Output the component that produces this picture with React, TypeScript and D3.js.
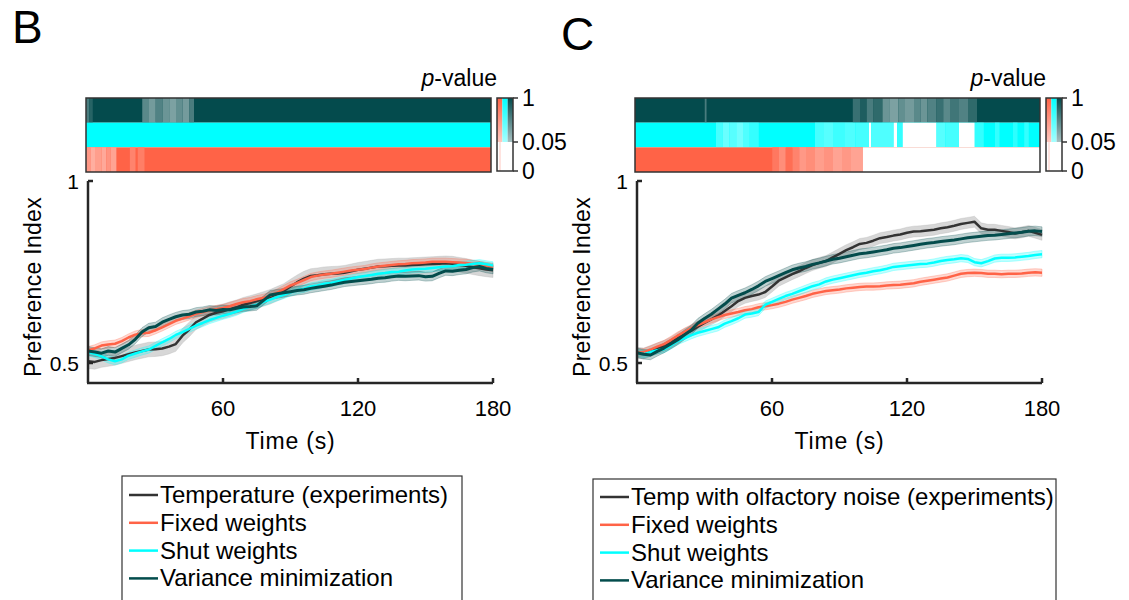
import React from "react";
import * as d3 from "d3";

// sample spacing of the traces (s)
const TIME_STEP = 3;
const X_TICKS = [60, 120, 180];
const Y_TICKS = [0.5, 1];
const P_TICKS = [0, 0.05, 1];

const LINE_COLORS = ["#333333", "#ff6347", "#00ffff", "#034c4c"];
const BAND_COLORS = ["#a6a6a6", "#ff6347", "#00ffff", "#034c4c"];
const HEAT_COLORS = ["#044b4d", "#00ffff", "#ff6347"]; // variance min, shut, fixed

const LEGEND_B = ["Temperature (experiments)", "Fixed weights", "Shut weights", "Variance minimization"];
const LEGEND_C = ["Temp with olfactory noise (experiments)", "Fixed weights", "Shut weights", "Variance minimization"];

// panel B: preference index every 3 s, 0..180 s
const B_EXP = [0.505, 0.503, 0.508, 0.511, 0.514, 0.519, 0.524, 0.529, 0.533, 0.537, 0.538, 0.54, 0.545, 0.552, 0.575, 0.592, 0.612, 0.622, 0.632, 0.638, 0.642, 0.648, 0.653, 0.66, 0.665, 0.67, 0.676, 0.682, 0.69, 0.698, 0.71, 0.722, 0.732, 0.739, 0.741, 0.744, 0.745, 0.746, 0.748, 0.752, 0.756, 0.759, 0.762, 0.765, 0.766, 0.767, 0.768, 0.768, 0.769, 0.77, 0.771, 0.772, 0.773, 0.774, 0.773, 0.77, 0.767, 0.763, 0.76, 0.757, 0.755];
const B_FIXED = [0.535, 0.54, 0.548, 0.551, 0.553, 0.56, 0.57, 0.578, 0.582, 0.583, 0.59, 0.598, 0.607, 0.616, 0.622, 0.628, 0.635, 0.64, 0.645, 0.648, 0.651, 0.656, 0.662, 0.667, 0.67, 0.675, 0.679, 0.685, 0.693, 0.703, 0.713, 0.72, 0.728, 0.736, 0.74, 0.743, 0.745, 0.748, 0.751, 0.754, 0.756, 0.758, 0.762, 0.765, 0.767, 0.769, 0.771, 0.772, 0.774, 0.775, 0.776, 0.778, 0.778, 0.778, 0.777, 0.776, 0.775, 0.772, 0.769, 0.766, 0.763];
const B_SHUT = [0.53, 0.525, 0.518, 0.51, 0.505, 0.51, 0.52, 0.526, 0.532, 0.537, 0.547, 0.557, 0.566, 0.577, 0.585, 0.594, 0.603, 0.61, 0.618, 0.624, 0.63, 0.635, 0.641, 0.649, 0.655, 0.66, 0.668, 0.674, 0.681, 0.687, 0.694, 0.7, 0.704, 0.71, 0.713, 0.718, 0.72, 0.724, 0.728, 0.732, 0.736, 0.739, 0.742, 0.745, 0.747, 0.75, 0.751, 0.754, 0.757, 0.758, 0.759, 0.761, 0.763, 0.765, 0.766, 0.769, 0.77, 0.772, 0.774, 0.771, 0.768];
const B_VARMIN = [0.533, 0.53, 0.527, 0.533, 0.53, 0.54, 0.55, 0.565, 0.585, 0.597, 0.6, 0.612, 0.62, 0.627, 0.632, 0.634, 0.64, 0.642, 0.646, 0.644, 0.647, 0.646, 0.65, 0.654, 0.655, 0.657, 0.672, 0.687, 0.69, 0.693, 0.696, 0.699, 0.701, 0.705, 0.708, 0.711, 0.714, 0.718, 0.722, 0.724, 0.726, 0.728, 0.73, 0.733, 0.734, 0.737, 0.739, 0.738, 0.739, 0.74, 0.737, 0.738, 0.746, 0.753, 0.752, 0.755, 0.757, 0.762, 0.765, 0.76, 0.757];
const B_SEM = [0.02, 0.01, 0.01, 0.012];

// panel C
const C_EXP = [0.528, 0.526, 0.533, 0.54, 0.547, 0.556, 0.568, 0.58, 0.588, 0.6, 0.61, 0.62, 0.63, 0.643, 0.656, 0.67, 0.679, 0.684, 0.688, 0.695, 0.71, 0.726, 0.735, 0.744, 0.752, 0.761, 0.769, 0.775, 0.78, 0.79, 0.8, 0.81, 0.818, 0.827, 0.83, 0.836, 0.843, 0.846, 0.85, 0.853, 0.858, 0.861, 0.862, 0.864, 0.866, 0.87, 0.873, 0.877, 0.882, 0.885, 0.888, 0.87, 0.866, 0.866, 0.863, 0.86, 0.856, 0.859, 0.863, 0.858, 0.852];
const C_FIXED = [0.528, 0.53, 0.537, 0.545, 0.552, 0.563, 0.575, 0.585, 0.595, 0.604, 0.612, 0.62, 0.626, 0.632, 0.636, 0.64, 0.645, 0.648, 0.653, 0.656, 0.659, 0.663, 0.668, 0.674, 0.679, 0.684, 0.69, 0.694, 0.698, 0.7, 0.702, 0.705, 0.707, 0.709, 0.71, 0.71, 0.711, 0.713, 0.714, 0.715, 0.717, 0.719, 0.723, 0.726, 0.729, 0.732, 0.735, 0.74, 0.745, 0.747, 0.748, 0.747, 0.745, 0.745, 0.744, 0.745, 0.745, 0.746, 0.748, 0.749, 0.748];
const C_SHUT = [0.528, 0.524, 0.53, 0.535, 0.538, 0.548, 0.56, 0.568, 0.576, 0.583, 0.588, 0.593, 0.598, 0.608, 0.615, 0.623, 0.633, 0.636, 0.64, 0.66, 0.668, 0.676, 0.684, 0.69, 0.697, 0.704, 0.711, 0.716, 0.724, 0.729, 0.733, 0.737, 0.741, 0.745, 0.748, 0.752, 0.755, 0.759, 0.764, 0.766, 0.768, 0.77, 0.772, 0.773, 0.776, 0.78, 0.783, 0.785, 0.788, 0.786, 0.777, 0.774, 0.78, 0.787, 0.789, 0.789, 0.79, 0.792, 0.794, 0.797, 0.799];
const C_VARMIN = [0.528, 0.524, 0.522, 0.532, 0.541, 0.552, 0.563, 0.577, 0.59, 0.609, 0.622, 0.634, 0.648, 0.662, 0.678, 0.686, 0.693, 0.702, 0.712, 0.724, 0.732, 0.74, 0.748, 0.756, 0.761, 0.765, 0.771, 0.775, 0.78, 0.785, 0.788, 0.792, 0.796, 0.8, 0.802, 0.805, 0.808, 0.811, 0.815, 0.817, 0.82, 0.823, 0.826, 0.829, 0.831, 0.834, 0.836, 0.838, 0.841, 0.844, 0.846, 0.848, 0.85, 0.851, 0.853, 0.855, 0.857, 0.859, 0.862, 0.863, 0.861];
const C_SEM = [0.015, 0.01, 0.01, 0.013];

// p-value strips: [start s, end s, p]; anything not listed is p = 1
const B_P_VARMIN = [[0, 1.5, 0.6], [1.5, 3, 0.8], [25, 28, 0.5], [28, 31, 0.35], [31, 34, 0.55], [34, 37, 0.4], [37, 40, 0.3], [40, 43, 0.45], [43, 46, 0.35], [46, 48, 0.6]];
const B_P_SHUT: number[][] = [];
const B_P_FIXED = [[0, 2, 0.5], [2, 4, 0.3], [4, 7, 0.45], [7, 9, 0.35], [9, 11, 0.55], [11, 13.5, 0.4], [19.5, 22, 0.7], [23, 26, 0.75]];

const C_P_VARMIN = [[31, 31.8, 0.6], [96.8, 100, 0.7], [100, 103, 0.85], [103, 106, 0.6], [106, 110, 0.75], [110, 113, 0.4], [113, 117, 0.3], [117, 120, 0.45], [120, 124, 0.35], [124, 127, 0.5], [127, 130, 0.4], [130, 134, 0.55], [134, 137, 0.7], [137, 140, 0.5], [140, 144, 0.65], [144, 148, 0.55], [148, 152, 0.75]];
const C_P_SHUT = [[36, 39, 0.6], [39, 42, 0.4], [42, 45, 0.5], [45, 48, 0.35], [48, 51, 0.55], [51, 55, 0.7], [80, 84, 0.6], [84, 88, 0.5], [88, 93, 0.65], [93, 98, 0.55], [98, 104, 0.6], [104, 105, 0.02], [105, 115, 0.55], [115, 116.5, 0.02], [116.5, 119, 0.7], [119, 134, 0.02], [134, 138, 0.5], [138, 144, 0.6], [144, 151, 0.02], [151, 155, 0.7], [160, 162, 0.7], [168, 170, 0.75], [173, 175, 0.7]];
const C_P_FIXED = [[61, 64, 0.8], [64, 67, 0.6], [67, 70, 0.9], [70, 73, 0.7], [73, 76, 0.5], [76, 80, 0.6], [80, 84, 0.45], [84, 88, 0.55], [88, 92, 0.4], [92, 96, 0.5], [96, 101.3, 0.4], [101.3, 180, 0.01]];

const FONT = "Arial, 'Liberation Sans', sans-serif";
const AXIS = "#262626";
const TICK_FS = 21;
const LABEL_FS = 23;
const LEGEND_FS = 24;

function pColor(base: string, p: number) {
  if (p < 0.05) return "#ffffff";
  const k = 0.35 + (0.65 * (p - 0.05)) / 0.95;
  return d3.interpolateRgb("#ffffff", base)(k);
}

function Panel({ ox, letter, letterY, series, sems, strips, legend, legendBox, legendY }: any) {
  const x0 = ox;
  const x = d3.scaleLinear().domain([0, 180]).range([x0, x0 + 405]);
  const y = d3.scaleLinear().domain([0.5, 1]).range([363, 181]);
  const yBottom = 383;
  const hx = d3.scaleLinear().domain([0, 180]).range([x0 - 2, x0 + 403]);
  const rows = d3.scaleBand<number>().domain([0, 1, 2]).range([98, 172]);
  const cbx = x0 + 409;
  const cbw = 16;
  const cb = d3.scaleLinear().domain([0, 0.05, 1]).range([171, 142, 98]);
  const cols = d3.scaleBand<number>().domain([2, 1, 0]).range([cbx, cbx + cbw]);

  const line = d3
    .line<number>()
    .x((_, i) => x(i * TIME_STEP))
    .y((d) => y(d));
  const area = (sem: number) =>
    d3
      .area<number>()
      .x((_, i) => x(i * TIME_STEP))
      .y0((d) => y(d - sem))
      .y1((d) => y(d + sem));

  return (
    <g fontFamily={FONT}>
      <text x={ox - 76} y={letterY} fontSize={46}>{letter}</text>

      {/* p-value heatmap */}
      <text x={cbx} y={86} fontSize={LABEL_FS} textAnchor="end">
        <tspan fontStyle="italic">p</tspan>-value
      </text>
      {strips.map((segs: number[][], r: number) => (
        <g key={r}>
          <rect x={hx(0)} y={rows(r)} width={hx(180) - hx(0)} height={rows.bandwidth()} fill={pColor(HEAT_COLORS[r], 1)} />
          {segs.map((s, i) => (
            <rect key={i} x={hx(s[0])} y={rows(r)} width={Math.max(0.6, hx(s[1]) - hx(s[0]))} height={rows.bandwidth()} fill={pColor(HEAT_COLORS[r], s[2])} />
          ))}
        </g>
      ))}
      <rect x={hx(0)} y={98} width={hx(180) - hx(0)} height={74} fill="none" stroke="#333" strokeWidth={1.5} />

      {/* colour bar */}
      {[2, 1, 0].map((r) => (
        <rect key={r} x={cols(r)} y={cb(1)} width={cols.bandwidth()} height={cb(0.05) - cb(1)} fill={`url(#grad${r})`} />
      ))}
      <line x1={cols(2)! + 3} x2={cols(2)! + 3} y1={cb(0.05)} y2={cb(0)} stroke="#ffc8c0" strokeWidth={1} />
      <rect x={cbx} y={cb(1)} width={cbw} height={cb(0) - cb(1)} fill="none" stroke="#333" strokeWidth={1.5} />
      {P_TICKS.map((t) => (
        <g key={t}>
          <line x1={cbx + cbw} x2={cbx + cbw + 5} y1={cb(t)} y2={cb(t)} stroke="#333" strokeWidth={1.5} />
          <text x={cbx + cbw + 9} y={cb(t) + 8} fontSize={LABEL_FS}>{t}</text>
        </g>
      ))}

      {/* shaded error bands and mean traces */}
      {series.map((s: number[], i: number) => (
        <g key={i}>
          <path d={area(sems[i])(s)!} fill={BAND_COLORS[i]} fillOpacity={i === 0 ? 0.45 : 0.25} stroke={BAND_COLORS[i]} strokeOpacity={0.35} strokeWidth={0.8} />
        </g>
      ))}
      {series.map((s: number[], i: number) => (
        <path key={i} d={line(s)!} fill="none" stroke={LINE_COLORS[i]} strokeWidth={i === 3 ? 3 : 2.5} strokeLinejoin="round" />
      ))}

      {/* axes */}
      <line x1={x0} x2={x0} y1={y(1)} y2={yBottom} stroke={AXIS} strokeWidth={2.5} />
      <line x1={x0 - 1} x2={x(180)} y1={yBottom} y2={yBottom} stroke={AXIS} strokeWidth={2.5} />
      {Y_TICKS.map((t) => (
        <g key={t}>
          <line x1={x0} x2={x0 + 5} y1={y(t)} y2={y(t)} stroke={AXIS} strokeWidth={2.5} />
          <text x={x0 - 9} y={y(t) + 8} fontSize={TICK_FS} textAnchor="end">{t}</text>
        </g>
      ))}
      {X_TICKS.map((t) => (
        <g key={t}>
          <line x1={x(t)} x2={x(t)} y1={yBottom} y2={yBottom - 5} stroke={AXIS} strokeWidth={2.5} />
          <text x={x(t)} y={416} fontSize={TICK_FS + 1} textAnchor="middle">{t}</text>
        </g>
      ))}
      <text x={(x(0) + x(180)) / 2} y={449} fontSize={LABEL_FS} letterSpacing={0.8} textAnchor="middle">Time (s)</text>
      <text transform={`translate(${x0 - 47},${(y(1) + yBottom) / 2 + 5}) rotate(-90)`} fontSize={LABEL_FS} letterSpacing={0.3} textAnchor="middle">Preference Index</text>

      {/* legend */}
      <rect x={legendBox[0]} y={legendBox[1]} width={legendBox[2]} height={140} fill="#fff" stroke="#333" strokeWidth={1.2} />
      {legend.map((lab: string, i: number) => (
        <g key={lab} transform={`translate(${legendBox[0] + 7},${legendY + i * 27.8})`}>
          <line x1={0} x2={29} y1={0} y2={0} stroke={LINE_COLORS[i]} strokeWidth={2.5} />
          <text x={31} y={8} fontSize={LEGEND_FS}>{lab}</text>
        </g>
      ))}
    </g>
  );
}

export default function App() {
  return (
    <svg width={1129} height={600} style={{ position: "absolute", left: 0, top: 0, background: "#fff" }}>
      <defs>
        {HEAT_COLORS.map((c, r) => (
          <linearGradient key={r} id={`grad${r}`} x1="0" y1="0" x2="0" y2="1">
            <stop offset="0%" stopColor={pColor(c, 1)} />
            <stop offset="100%" stopColor={pColor(c, 0.05)} />
          </linearGradient>
        ))}
      </defs>
      <Panel
        ox={88}
        letter="B"
        letterY={43}
        series={[B_EXP, B_FIXED, B_SHUT, B_VARMIN]}
        sems={B_SEM}
        strips={[B_P_VARMIN, B_P_SHUT, B_P_FIXED]}
        legend={LEGEND_B}
        legendBox={[122, 476, 340]}
        legendY={495}
      />
      <Panel
        ox={637}
        letter="C"
        letterY={50}
        series={[C_EXP, C_FIXED, C_SHUT, C_VARMIN]}
        sems={C_SEM}
        strips={[C_P_VARMIN, C_P_SHUT, C_P_FIXED]}
        legend={LEGEND_C}
        legendBox={[593, 479, 463]}
        legendY={497}
      />
    </svg>
  );
}
